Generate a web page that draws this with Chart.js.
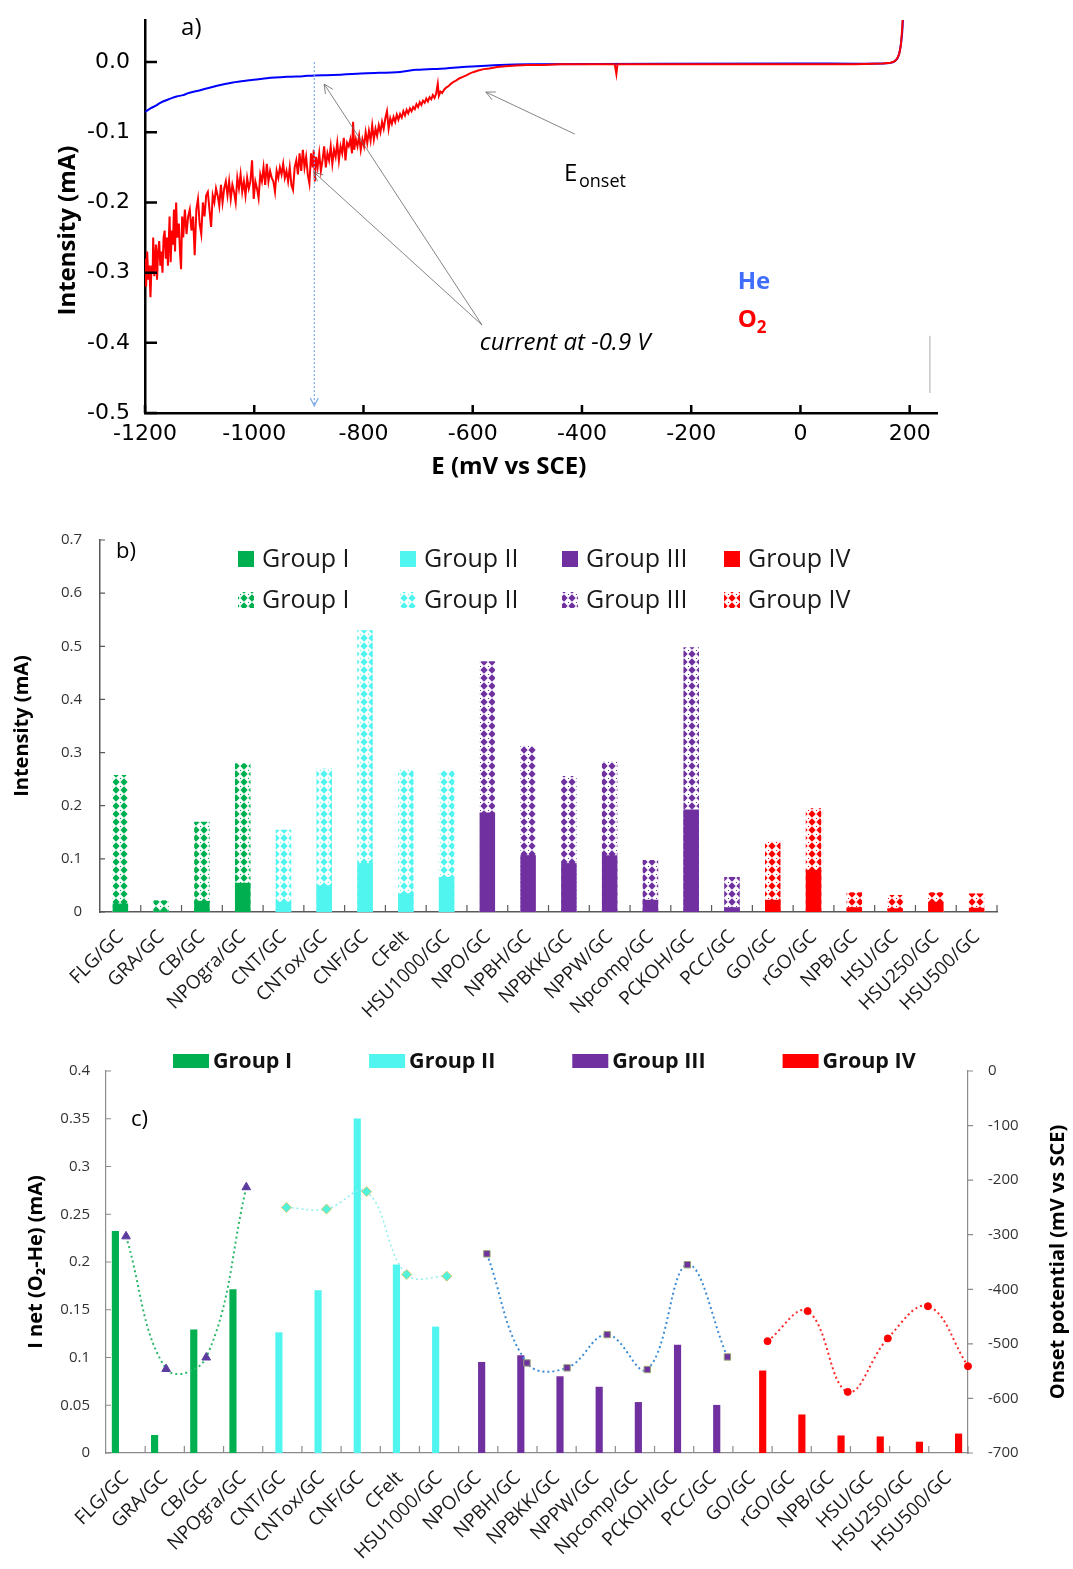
<!DOCTYPE html>
<html lang="en">
<head>
<meta charset="UTF-8">
<title>ORR current and onset potential</title>
<script src="https://cdn.jsdelivr.net/npm/chart.js"></script>
<style>
  body { margin: 0; background: #fff; }
  .panel { position: relative; width: 1073px; }
  #pa { height: 490px; }
  #pb { height: 550px; }
  #pc { height: 529px; }
</style>
</head>
<body>
<div class="panel" id="pa"><canvas id="graficoA"></canvas></div>
<div class="panel" id="pb"><canvas id="graficoB"></canvas></div>
<div class="panel" id="pc"><canvas id="graficoC"></canvas></div>
<script>
// ---- panel a: barrido, E (mV vs SCE) / I (mA)
const barridoO2 = [
  [-1200,-0.28],[-1198,-0.32],[-1196,-0.27],[-1194,-0.31],[-1192,-0.29],[-1190,-0.335],[-1188,-0.29],[-1186,-0.30],
  [-1185,-0.25],[-1183,-0.305],[-1180,-0.26],[-1178,-0.31],[-1176,-0.27],[-1174,-0.255],[-1172,-0.29],[-1170,-0.27],
  [-1168,-0.30],[-1166,-0.25],[-1164,-0.24],[-1162,-0.28],[-1160,-0.25],[-1158,-0.29],[-1155,-0.22],[-1153,-0.285],
  [-1151,-0.24],[-1149,-0.26],[-1147,-0.21],[-1145,-0.27],[-1143,-0.20],[-1141,-0.25],[-1138,-0.23],[-1136,-0.27],
  [-1134,-0.295],[-1132,-0.22],[-1130,-0.25],[-1127,-0.21],[-1124,-0.245],[-1121,-0.22],[-1118,-0.21],[-1115,-0.24],
  [-1112,-0.22],[-1109,-0.275],[-1106,-0.21],[-1103,-0.195],[-1100,-0.23],[-1097,-0.245],[-1094,-0.20],[-1091,-0.22],
  [-1088,-0.19],[-1085,-0.185],[-1082,-0.21],[-1079,-0.235],[-1076,-0.19],[-1073,-0.20],[-1070,-0.18],[-1067,-0.19],
  [-1064,-0.205],[-1061,-0.175],[-1058,-0.20],[-1055,-0.18],[-1052,-0.17],[-1049,-0.19],[-1046,-0.17],[-1043,-0.195],
  [-1040,-0.175],[-1037,-0.185],[-1034,-0.20],[-1031,-0.165],[-1028,-0.18],[-1025,-0.16],[-1022,-0.185],[-1019,-0.17],
  [-1016,-0.19],[-1013,-0.165],[-1010,-0.18],[-1007,-0.17],[-1004,-0.14],[-1001,-0.195],[-998,-0.17],[-995,-0.18],
  [-992,-0.194],[-989,-0.16],[-986,-0.17],[-983,-0.15],[-980,-0.175],[-977,-0.145],[-974,-0.17],[-971,-0.155],
  [-968,-0.165],[-965,-0.17],[-962,-0.185],[-959,-0.155],[-956,-0.165],[-953,-0.15],[-950,-0.16],[-947,-0.145],
  [-944,-0.165],[-941,-0.155],[-938,-0.17],[-935,-0.15],[-932,-0.175],[-929,-0.182],[-926,-0.15],[-923,-0.14],
  [-920,-0.16],[-917,-0.13],[-914,-0.155],[-911,-0.125],[-908,-0.15],[-905,-0.135],[-902,-0.16],[-899,-0.173],
  [-896,-0.13],[-893,-0.15],[-891,-0.125],[-889,-0.17],[-887,-0.135],[-884,-0.15],[-881,-0.13],[-878,-0.155],
  [-875,-0.14],[-872,-0.12],[-869,-0.15],[-866,-0.13],[-863,-0.14],[-860,-0.12],[-857,-0.145],[-854,-0.125],
  [-851,-0.135],[-848,-0.115],[-845,-0.14],[-842,-0.12],[-839,-0.13],[-836,-0.108],[-833,-0.14],[-830,-0.115],
  [-827,-0.12],[-824,-0.11],[-821,-0.13],[-819,-0.085],[-817,-0.125],[-814,-0.11],[-811,-0.12],[-808,-0.105],
  [-805,-0.125],[-802,-0.11],[-799,-0.12],[-796,-0.10],[-793,-0.115],[-790,-0.098],[-787,-0.112],[-784,-0.09],
  [-781,-0.11],[-778,-0.095],[-775,-0.105],[-772,-0.09],[-769,-0.10],[-766,-0.085],[-763,-0.095],[-760,-0.08],
  [-757,-0.07],[-754,-0.095],[-751,-0.08],[-748,-0.088],[-745,-0.078],[-742,-0.085],[-739,-0.075],[-736,-0.082],
  [-733,-0.074],[-730,-0.079],[-727,-0.07],[-724,-0.076],[-721,-0.068],[-718,-0.073],[-715,-0.066],[-712,-0.07],
  [-709,-0.064],[-706,-0.067],[-703,-0.06],[-700,-0.064],[-697,-0.057],[-694,-0.061],[-691,-0.055],[-688,-0.058],
  [-685,-0.052],[-682,-0.056],[-679,-0.05],[-676,-0.053],[-673,-0.047],[-670,-0.051],[-667,-0.045],[-664,-0.031],
  [-662,-0.048],[-659,-0.042],[-656,-0.044],[-652,-0.039],[-648,-0.036],[-644,-0.034],[-640,-0.031],[-635,-0.028],
  [-630,-0.026],[-624,-0.023],[-618,-0.021],[-612,-0.019],[-605,-0.016],[-598,-0.014],[-590,-0.012],[-580,-0.010],
  [-570,-0.009],[-555,-0.007],[-540,-0.006],[-520,-0.005],[-500,-0.004],[-470,-0.004],[-440,-0.003],[-400,-0.003],
  [-340,-0.003],[-337,-0.017],[-335,-0.003],[-300,-0.003],[-200,-0.003],[-100,-0.003],[0,-0.003],[100,-0.003],
  [150,-0.002],[165,-0.001],[172,0.001],[177,0.005],[181,0.012],[184,0.025],[186,0.045],[188,0.07]
];
const barridoHe = [
  [-1200,-0.071],[-1190,-0.066],[-1180,-0.062],[-1172,-0.058],[-1160,-0.054],[-1150,-0.051],[-1142,-0.049],
  [-1130,-0.047],[-1120,-0.044],[-1099,-0.040],[-1070,-0.034],[-1039,-0.029],[-1010,-0.026],[-977,-0.023],
  [-940,-0.021],[-911,-0.020],[-890,-0.019],[-856,-0.0185],[-794,-0.016],[-733,-0.014],[-703,-0.011],
  [-650,-0.009],[-611,-0.0067],[-550,-0.004],[-500,-0.003],[0,-0.002],[150,-0.002],[170,0.0],[180,0.01],
  [186,0.04],[188,0.07]
];
const ticksE = [-1200, -1000, -800, -600, -400, -200, 0, 200];
const ticksI = [-0.5, -0.4, -0.3, -0.2, -0.1, 0];

// ---- paneles b y c
const categorias = ['FLG/GC', 'GRA/GC', 'CB/GC', 'NPOgra/GC', 'CNT/GC', 'CNTox/GC', 'CNF/GC', 'CFelt', 'HSU1000/GC',
  'NPO/GC', 'NPBH/GC', 'NPBKK/GC', 'NPPW/GC', 'Npcomp/GC', 'PCKOH/GC', 'PCC/GC', 'GO/GC', 'rGO/GC', 'NPB/GC',
  'HSU/GC', 'HSU250/GC', 'HSU500/GC'];
const grupo = [0, 0, 0, 0, 1, 1, 1, 1, 1, 2, 2, 2, 2, 2, 2, 2, 3, 3, 3, 3, 3, 3];
const nombresGrupo = ['Group I', 'Group II', 'Group III', 'Group IV'];
// corriente a -0.9 V (mA)
const corrienteO2 = [0.258, 0.022, 0.17, 0.28, 0.155, 0.27, 0.53, 0.267, 0.266, 0.472, 0.313, 0.256, 0.283, 0.098,
  0.498, 0.066, 0.132, 0.195, 0.037, 0.032, 0.037, 0.035];
const corrienteHe = [0.016, 0.003, 0.021, 0.055, 0.019, 0.05, 0.092, 0.035, 0.066, 0.187, 0.107, 0.092, 0.107, 0.023,
  0.193, 0.009, 0.023, 0.079, 0.009, 0.007, 0.019, 0.008];
const corrienteNeta = [0.232, 0.0185, 0.129, 0.171, 0.126, 0.170, 0.350, 0.197, 0.132, 0.095, 0.102, 0.080, 0.069,
  0.053, 0.113, 0.050, 0.086, 0.040, 0.018, 0.017, 0.0115, 0.020];
// potencial de inicio (mV vs SCE)
const potencialOnset = [-303, -546, -525, -213, -250, -253, -221, -373, -376, -335, -535, -544, -483, -547, -355,
  -524, -495, -440, -588, -490, -431, -541];

const coloresGrupo = ['#00B050', '#50F5F0', '#7030A0', '#FF0000'];
const estilos = [
  { linea: '#2DB86A', punto: 'triangle', relleno: '#5B3C9E', borde: '#5B3C9E', radio: 5, grosor: 2 },
  { linea: '#8DEFEF', punto: 'rectRot', relleno: '#52F2DA', borde: '#D2CC78', radio: 5, grosor: 1.5 },
  { linea: '#3D8CD6', punto: 'rect', relleno: '#7030A0', borde: '#93A474', radio: 4.5, grosor: 2 },
  { linea: '#FF2A2A', punto: 'circle', relleno: '#FF0000', borde: '#FF0000', radio: 3.5, grosor: 2 }
];
// hueco de cada grupo dentro de la categoria (como el agrupado de Excel)
const huecoGrupo = [-0.26, -0.087, 0.087, 0.26];

Chart.defaults.font.family = "'Open Sans', sans-serif";
Chart.defaults.color = '#222';
Chart.defaults.animation = false;

function trama(color) {
  const c = document.createElement('canvas');
  c.width = 8; c.height = 8;
  const g = c.getContext('2d');
  g.fillStyle = '#fff';
  g.fillRect(0, 0, 8, 8);
  g.fillStyle = color;
  g.beginPath();
  g.moveTo(4, 0.3); g.lineTo(7.7, 4); g.lineTo(4, 7.7); g.lineTo(0.3, 4);
  g.closePath();
  g.fill();
  g.fillRect(0, 0, 1, 1);
  return g.createPattern(c, 'repeat');
}
const tramas = coloresGrupo.map(trama);

// marcas de graduacion (hacia dentro o fuera del area)
function marcasPlugin(ejes) {
  return {
    id: 'marcas',
    afterDraw(chart) {
      const ctx = chart.ctx;
      const area = chart.chartArea;
      ejes.forEach(e => {
        const s = chart.scales[e.id];
        let pos = [];
        if (e.entre) {
          const n = s.ticks.length;
          for (let i = 1; i <= n; i++) pos.push(s.left + i * s.width / n);
        } else {
          pos = s.ticks.map(t => s.getPixelForValue(t.value));
        }
        const signo = e.dentro ? -1 : 1;
        ctx.save();
        ctx.strokeStyle = e.color;
        ctx.lineWidth = e.grosor;
        ctx.beginPath();
        pos.forEach(p => {
          if (s.position === 'bottom') { ctx.moveTo(p, area.bottom); ctx.lineTo(p, area.bottom + signo * e.largo); }
          else if (s.position === 'left') { ctx.moveTo(area.left, p); ctx.lineTo(area.left - signo * e.largo, p); }
          else { ctx.moveTo(area.right, p); ctx.lineTo(area.right + signo * e.largo, p); }
        });
        ctx.stroke();
        ctx.restore();
      });
    }
  };
}

function leyendaPlugin(cfg) {
  return {
    id: 'leyenda',
    afterDraw(chart) {
      const ctx = chart.ctx;
      const area = chart.chartArea;
      ctx.save();
      ctx.textBaseline = 'middle';
      ctx.textAlign = 'left';
      ctx.font = cfg.fuente;
      cfg.filas.forEach((fila, r) => {
        const y = cfg.y + r * cfg.salto;
        let x = cfg.x;
        fila.forEach((it, i) => {
          if (cfg.columna) x = cfg.x + i * cfg.columna;
          ctx.fillStyle = it.relleno;
          ctx.fillRect(x, y - cfg.alto / 2, cfg.ancho, cfg.alto);
          ctx.fillStyle = cfg.color;
          ctx.fillText(it.texto, x + cfg.ancho + cfg.sep, y + 1);
          x += cfg.ancho + cfg.sep + ctx.measureText(it.texto).width + cfg.hueco;
        });
      });
      ctx.font = cfg.rotulo.fuente;
      ctx.fillStyle = '#000';
      ctx.fillText(cfg.rotulo.texto, cfg.rotulo.x, cfg.rotulo.y);
      if (cfg.tituloDerecho) {
        const t = cfg.tituloDerecho;
        ctx.font = t.fuente;
        ctx.textAlign = 'center';
        ctx.translate(t.x, (area.top + area.bottom) / 2);
        ctx.rotate(-Math.PI / 2);
        ctx.fillText(t.texto, 0, 0);
      }
      ctx.restore();
    }
  };
}

function flecha(ctx, x1, y1, x2, y2, tam) {
  const a = Math.atan2(y2 - y1, x2 - x1);
  ctx.beginPath();
  ctx.moveTo(x1, y1);
  ctx.lineTo(x2, y2);
  ctx.moveTo(x2 - tam * Math.cos(a - 0.45), y2 - tam * Math.sin(a - 0.45));
  ctx.lineTo(x2, y2);
  ctx.lineTo(x2 - tam * Math.cos(a + 0.45), y2 - tam * Math.sin(a + 0.45));
  ctx.stroke();
}

// textos y flechas del panel a
const notasA = {
  id: 'notasA',
  afterDraw(chart) {
    const { ctx, chartArea: area } = chart;
    const px = v => chart.scales.x.getPixelForValue(v);
    const py = v => chart.scales.y.getPixelForValue(v);
    ctx.save();
    // guia a -0.9 V
    ctx.strokeStyle = '#7AA6E6';
    ctx.lineWidth = 1.2;
    ctx.setLineDash([2, 2]);
    ctx.beginPath();
    ctx.moveTo(px(-890), py(0));
    ctx.lineTo(px(-890), py(-0.49));
    ctx.stroke();
    ctx.setLineDash([]);
    ctx.beginPath();
    ctx.moveTo(px(-890) - 4, py(-0.49) - 8);
    ctx.lineTo(px(-890), py(-0.49));
    ctx.lineTo(px(-890) + 4, py(-0.49) - 8);
    ctx.stroke();

    ctx.strokeStyle = '#666';
    ctx.lineWidth = 0.8;
    flecha(ctx, px(-413), py(-0.1026), px(-576), py(-0.0427), 10);
    flecha(ctx, px(-583), py(-0.3746), px(-872), py(-0.0313), 10);
    flecha(ctx, px(-583), py(-0.3746), px(-891), py(-0.1567), 10);

    ctx.strokeStyle = '#aaa';
    ctx.lineWidth = 1;
    ctx.beginPath();
    ctx.moveTo(px(237), py(-0.39));
    ctx.lineTo(px(237), py(-0.4715));
    ctx.stroke();

    ctx.fillStyle = '#000';
    ctx.textAlign = 'left';
    ctx.textBaseline = 'alphabetic';
    ctx.font = "24px 'Open Sans'";
    ctx.fillText('a)', px(-1134), py(0.038));
    ctx.fillText('E', px(-433), py(-0.1695));
    ctx.font = "18px 'Open Sans'";
    ctx.fillText('onset', px(-433) + 15, py(-0.178));
    ctx.font = "italic 24px 'Open Sans'";
    ctx.textBaseline = 'middle';
    ctx.fillText('current at -0.9 V', px(-587), py(-0.400));
    ctx.font = "bold 24px 'Open Sans'";
    ctx.fillStyle = '#3F6EFF';
    ctx.fillText('He', px(-115), py(-0.313));
    ctx.fillStyle = '#FF0000';
    ctx.fillText('O', px(-115), py(-0.3675));
    const anchoO = ctx.measureText('O').width;
    ctx.font = "bold 17px 'Open Sans'";
    ctx.fillText('2', px(-115) + anchoO, py(-0.3675) + 8);

    ctx.fillStyle = '#000';
    ctx.font = "bold 24px 'Open Sans'";
    ctx.textAlign = 'center';
    ctx.fillText('E (mV vs SCE)', px(-534), area.bottom + 54);
    ctx.translate(area.left - 77, py(-0.24));
    ctx.rotate(-Math.PI / 2);
    ctx.fillText('Intensity (mA)', 0, 0);
    ctx.restore();
  }
};

new Chart(document.getElementById('graficoA'), {
  type: 'line',
  data: {
    datasets: [
      { label: 'O2', data: barridoO2.map(p => ({ x: p[0], y: p[1] })), borderColor: '#FF0000', borderWidth: 2, pointRadius: 0, tension: 0 },
      { label: 'He', data: barridoHe.map(p => ({ x: p[0], y: p[1] })), borderColor: '#0000FF', borderWidth: 2, pointRadius: 0, tension: 0.3 }
    ]
  },
  options: {
    responsive: true,
    maintainAspectRatio: false,
    events: [],
    layout: { padding: { top: 20, right: 136, left: 0, bottom: 0 } },
    plugins: { legend: { display: false }, tooltip: { enabled: false } },
    scales: {
      x: {
        type: 'linear', min: -1200, max: 250,
        afterBuildTicks: s => { s.ticks = ticksE.map(v => ({ value: v })); },
        afterFit: s => { s.height = 77; s.paddingLeft = 0; s.paddingRight = 0; },
        grid: { display: false, drawTicks: false },
        border: { color: '#000', width: 2.5 },
        ticks: { font: { family: 'DejaVu Sans', size: 22 }, color: '#000', padding: 8, maxRotation: 0, autoSkip: false, callback: v => String(v) }
      },
      y: {
        min: -0.5, max: 0.06,
        afterBuildTicks: s => { s.ticks = ticksI.map(v => ({ value: v })); },
        afterFit: s => { s.width = 145; s.paddingTop = 0; s.paddingBottom = 0; },
        grid: { display: false, drawTicks: false },
        border: { color: '#000', width: 2.5 },
        ticks: { font: { family: 'DejaVu Sans', size: 22 }, color: '#000', padding: 15, callback: v => v.toFixed(1) }
      }
    }
  },
  plugins: [
    marcasPlugin([
      { id: 'x', dentro: true, largo: 8, color: '#000', grosor: 2.5 },
      { id: 'y', dentro: true, largo: 12, color: '#000', grosor: 2.5 }
    ]),
    notasA
  ]
});

// ---- panel b
new Chart(document.getElementById('graficoB'), {
  type: 'bar',
  data: {
    labels: categorias,
    datasets: [
      { label: 'He', data: corrienteHe, backgroundColor: corrienteHe.map((v, i) => coloresGrupo[grupo[i]]), grouped: false, categoryPercentage: 1, barPercentage: 0.38 },
      { label: 'O2', data: corrienteO2, backgroundColor: corrienteO2.map((v, i) => tramas[grupo[i]]), grouped: false, categoryPercentage: 1, barPercentage: 0.38 }
    ]
  },
  options: {
    responsive: true,
    maintainAspectRatio: false,
    events: [],
    layout: { padding: { top: 50, right: 76, left: 0, bottom: 0 } },
    plugins: { legend: { display: false }, tooltip: { enabled: false } },
    scales: {
      x: {
        afterFit: s => { s.height = 128; },
        grid: { display: false, drawTicks: false },
        border: { color: '#595959', width: 1.5 },
        ticks: { font: { size: 19 }, color: '#1a1a1a', minRotation: 45, maxRotation: 45, autoSkip: false, padding: 14 }
      },
      y: {
        min: 0, max: 0.7,
        afterFit: s => { s.width = 100; },
        grid: { display: false, drawTicks: false },
        border: { color: '#595959', width: 1.5 },
        ticks: { stepSize: 0.1, font: { size: 15 }, color: '#333', padding: 18, callback: v => v === 0 ? '0' : v.toFixed(1) },
        title: { display: true, text: 'Intensity (mA)', font: { size: 20, weight: 'bold' }, color: '#000', padding: { top: 10, bottom: 0 } }
      }
    }
  },
  plugins: [
    marcasPlugin([
      { id: 'x', entre: true, dentro: true, largo: 7, color: '#595959', grosor: 1.2 },
      { id: 'y', dentro: true, largo: 5, color: '#595959', grosor: 1.2 }
    ]),
    leyendaPlugin({
      x: 238, y: 69, salto: 41, columna: 162, ancho: 16, alto: 16, sep: 8, hueco: 0,
      fuente: "25px 'Open Sans'", color: '#1a1a1a',
      filas: [
        nombresGrupo.map((t, g) => ({ texto: t, relleno: coloresGrupo[g] })),
        nombresGrupo.map((t, g) => ({ texto: t, relleno: tramas[g] }))
      ],
      rotulo: { texto: 'b)', x: 116, y: 62, fuente: "22px 'Open Sans'" }
    })
  ]
});

// ---- panel c
const barrasC = nombresGrupo.map((t, g) => ({
  type: 'bar', label: t, order: 1, grouped: false, barThickness: 6.5,
  data: corrienteNeta.map((v, i) => ({ x: i + huecoGrupo[g], y: v })).filter((p, i) => grupo[i] === g),
  backgroundColor: coloresGrupo[g],
  xAxisID: 'x3', yAxisID: 'y'
}));
const lineasC = nombresGrupo.map((t, g) => ({
  type: 'line', label: t + ' onset', order: 0, clip: false,
  data: potencialOnset.map((v, i) => ({ x: i, y: v })).filter((p, i) => grupo[i] === g),
  borderColor: estilos[g].linea, borderWidth: estilos[g].grosor, borderDash: [2, 3], tension: 0.4,
  pointStyle: estilos[g].punto, pointRadius: estilos[g].radio,
  pointBackgroundColor: estilos[g].relleno, pointBorderColor: estilos[g].borde, pointBorderWidth: 1,
  xAxisID: 'x2', yAxisID: 'y2'
}));
const ejeOculto = (min, max) => ({
  type: 'linear', position: 'bottom', min: min, max: max, offset: false,
  afterFit: s => { s.height = 0; },
  grid: { display: false, drawTicks: false },
  border: { display: false },
  ticks: { display: false }
});

new Chart(document.getElementById('graficoC'), {
  type: 'bar',
  data: { labels: categorias, datasets: barrasC.concat(lineasC) },
  options: {
    responsive: true,
    maintainAspectRatio: false,
    events: [],
    layout: { padding: { top: 31, right: 0, left: 0, bottom: 0 } },
    plugins: { legend: { display: false }, tooltip: { enabled: false } },
    scales: {
      x: {
        type: 'category',
        afterFit: s => { s.height = 116; },
        grid: { display: false, drawTicks: false },
        border: { color: '#8c8c8c', width: 1.2 },
        ticks: { font: { size: 19 }, color: '#1a1a1a', minRotation: 45, maxRotation: 45, autoSkip: false, padding: 14 }
      },
      x2: ejeOculto(-0.5, 21),
      x3: ejeOculto(-0.5, 21.5),
      y: {
        position: 'left', min: 0, max: 0.4,
        afterFit: s => { s.width = 106; },
        grid: { display: false, drawTicks: false },
        border: { color: '#8c8c8c', width: 1.2 },
        ticks: { stepSize: 0.05, font: { size: 15 }, color: '#333', padding: 16, callback: v => String(parseFloat(v.toFixed(2))) },
        title: { display: true, text: 'I net (O₂-He) (mA)', font: { size: 20, weight: 'bold' }, color: '#000', padding: { top: 24, bottom: 0 } }
      },
      y2: {
        position: 'right', min: -700, max: 0,
        afterFit: s => { s.width = 105; },
        grid: { display: false, drawTicks: false },
        border: { color: '#8c8c8c', width: 1.2 },
        ticks: { stepSize: 100, font: { size: 15 }, color: '#333', padding: 20 }
      }
    }
  },
  plugins: [
    marcasPlugin([
      { id: 'x', entre: true, dentro: true, largo: 7, color: '#8c8c8c', grosor: 1.2 },
      { id: 'y', dentro: true, largo: 5, color: '#8c8c8c', grosor: 1.2 },
      { id: 'y2', dentro: false, largo: 5, color: '#8c8c8c', grosor: 1.2 }
    ]),
    leyendaPlugin({
      x: 173, y: 21, salto: 0, ancho: 36, alto: 14, sep: 4, hueco: 77,
      fuente: "bold 21.5px 'Open Sans'", color: '#111',
      filas: [nombresGrupo.map((t, g) => ({ texto: t, relleno: coloresGrupo[g] }))],
      rotulo: { texto: 'c)', x: 131, y: 80, fuente: "22px 'Open Sans'" },
      tituloDerecho: { texto: 'Onset potential (mV vs SCE)', x: 1058, fuente: "bold 20px 'Open Sans'" }
    })
  ]
});
</script>
</body>
</html>
